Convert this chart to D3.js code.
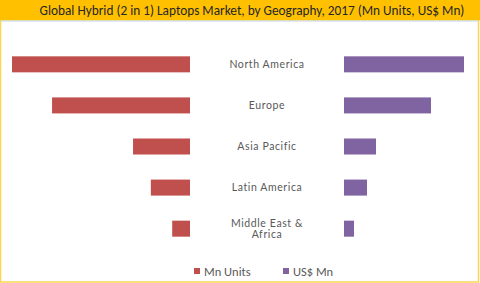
<!DOCTYPE html>
<html>
<head>
<meta charset="utf-8">
<script src="https://cdn.jsdelivr.net/npm/d3@7"></script>
<style>
  body { margin: 0; background: #fff; }
  svg { display: block; }
</style>
</head>
<body>
<svg id="chart" width="480" height="283"></svg>
<script>
// values (scaled estimates)
regions = ['North America', 'Europe', 'Asia Pacific', 'Latin America', 'Middle East & Africa']
regionLines = [['North America'], ['Europe'], ['Asia Pacific'], ['Latin America'], ['Middle East &', 'Africa']]
mnUnits = [10.0, 7.75, 3.2, 2.2, 1.0]
usdMn = [6000, 4350, 1600, 1150, 500]
seriesNames = ['Mn Units', 'US$ Mn']
seriesColours = ['#C0504D', '#8064A2']
title = 'Global Hybrid (2 in 1) Laptops Market, by Geography, 2017 (Mn Units, US$ Mn)'

svg = d3.select('#chart')

// frame
svg.append('rect')
   .attr('x', 0.5).attr('y', 0).attr('width', 478).attr('height', 282)
   .attr('fill', '#fff')
   .attr('stroke', '#FFD54F')
   .attr('stroke-width', 1.5)

svg.append('rect')
   .attr('x', 0).attr('y', 0).attr('width', 480).attr('height', 20.5)
   .attr('fill', '#FFC000')
svg.append('line')
   .attr('x1', 1).attr('x2', 478).attr('y1', 21).attr('y2', 21)
   .attr('stroke', '#BDD7EE').attr('stroke-width', 1)

svg.append('text')
   .attr('x', 252).attr('y', 15)
   .attr('text-anchor', 'middle')
   .attr('font-family', 'Carlito, "Open Sans", sans-serif')
   .attr('font-size', 13.3)
   .attr('fill', '#262626')
   .text(title)

y = d3.scaleBand()
      .domain(regions)
      .range([44, 249])
      .paddingInner(0.61)
      .paddingOuter(0.3)

xLeft = d3.scaleLinear()
          .domain([0, 10])
          .range([190, 12])

xRight = d3.scaleLinear()
           .domain([0, 6000])
           .range([344, 464])

svg.append('g').selectAll('rect')
   .data(mnUnits)
   .enter()
   .append('rect')
   .attr('x', function(d) { return xLeft(d) })
   .attr('y', function(d, i) { return y(regions[i]) })
   .attr('width', function(d) { return xLeft(0) - xLeft(d) })
   .attr('height', y.bandwidth())
   .attr('fill', seriesColours[0])

svg.append('g').selectAll('rect')
   .data(usdMn)
   .enter()
   .append('rect')
   .attr('x', xRight(0))
   .attr('y', function(d, i) { return y(regions[i]) })
   .attr('width', function(d) { return xRight(d) - xRight(0) })
   .attr('height', y.bandwidth())
   .attr('fill', seriesColours[1])

labels = svg.append('g').selectAll('text')
   .data(regionLines)
   .enter()
   .append('text')
   .attr('text-anchor', 'middle')
   .attr('font-family', 'Lato, sans-serif')
   .attr('font-size', 10.5)
   .attr('letter-spacing', 0.6)
   .attr('fill', '#595959')
   .attr('transform', function(d, i) {
     mid = y(regions[i]) + y.bandwidth() / 2
     return 'translate(267,' + (mid + 3.5 - (d.length - 1) * 5.5) + ')'
   })

labels.selectAll('tspan')
      .data(function(d) { return d })
      .enter()
      .append('tspan')
      .attr('x', 0)
      .attr('dy', function(d, j) { return j == 0 ? 0 : 11.5 })
      .text(function(d) { return d })

legend = svg.append('g').selectAll('g')
   .data(seriesNames)
   .enter()
   .append('g')
   .attr('transform', function(d, i) { return 'translate(' + (i == 0 ? 194 : 283) + ',271)' })

legend.append('rect')
      .attr('x', 0).attr('y', -3).attr('width', 6).attr('height', 6)
      .attr('fill', function(d, i) { return seriesColours[i] })

legend.append('text')
      .attr('x', 10).attr('y', 4.5)
      .attr('font-family', 'Carlito, "Open Sans", sans-serif')
      .attr('font-size', 12.5)
      .attr('fill', '#595959')
      .text(function(d) { return d })
</script>
</body>
</html>
